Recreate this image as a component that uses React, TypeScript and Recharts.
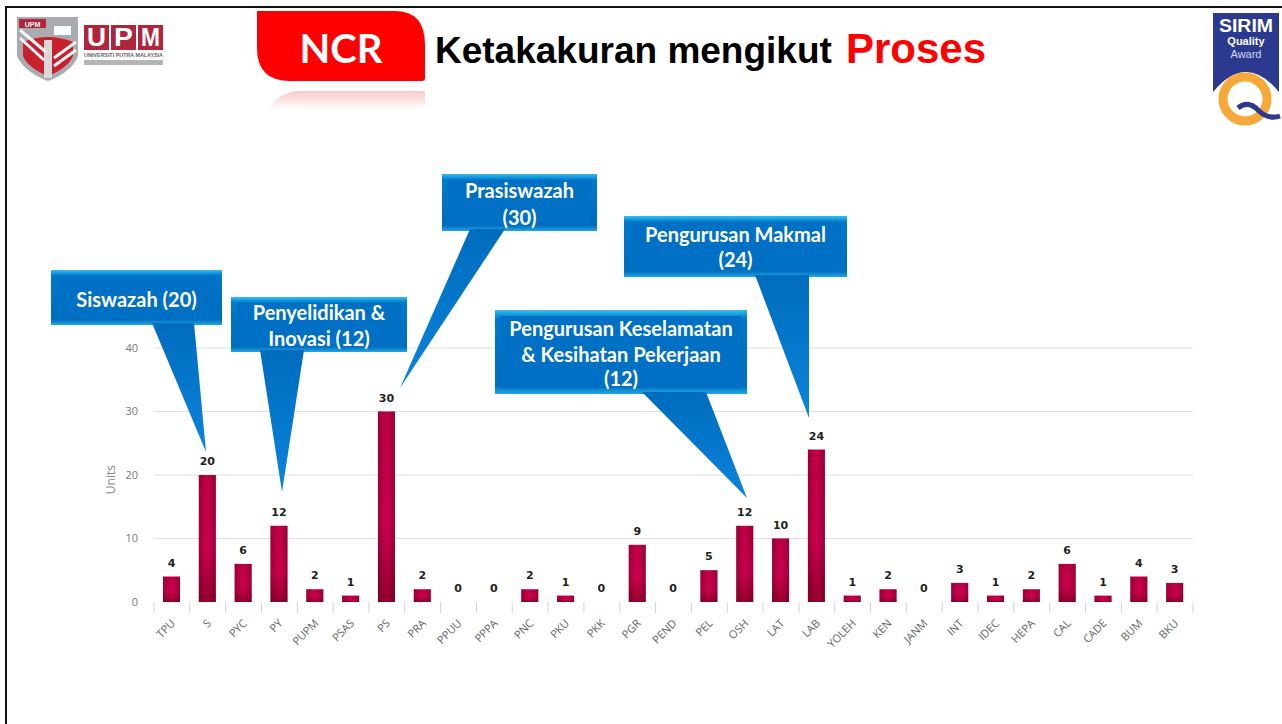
import React from 'react';
import { BarChart, Bar, XAxis, YAxis, CartesianGrid, LabelList } from 'recharts';

const categories = ['TPU', 'S', 'PYC', 'PY', 'PUPM', 'PSAS', 'PS', 'PRA', 'PPUU', 'PPPA', 'PNC', 'PKU', 'PKK', 'PGR', 'PEND', 'PEL', 'OSH', 'LAT', 'LAB', 'YOLEH', 'KEN', 'JANM', 'INT', 'IDEC', 'HEPA', 'CAL', 'CADE', 'BUM', 'BKU'];
const ncrCounts = [4, 20, 6, 12, 2, 1, 30, 2, 0, 0, 2, 1, 0, 9, 0, 5, 12, 10, 24, 1, 2, 0, 3, 1, 2, 6, 1, 4, 3];
const yTicks = [0, 10, 20, 30, 40];

const chartData = categories.map((name, i) => ({ name, value: ncrCounts[i] }));

const WIDTH = 1282;
const HEIGHT = 724;
const PLOT_LEFT = 154;
const PLOT_RIGHT = 1193;
const BAND = (PLOT_RIGHT - PLOT_LEFT) / categories.length;

// tick marks sit on the category boundaries, not the centres
const CategoryTick = (props: any) => {
  const { x, y, payload, index } = props;
  const left = x - BAND / 2;
  const isLast = index === categories.length - 1;
  return (
    <g>
      <line x1={left} x2={left} y1={602} y2={613} stroke="#d4d4d4" />
      {isLast && <line x1={left + BAND} x2={left + BAND} y1={602} y2={613} stroke="#d4d4d4" />}
      <text
        x={x + 4}
        y={y + 14}
        textAnchor="end"
        fontSize={11}
        fontFamily="'Open Sans', sans-serif"
        fill="#666"
        transform={`rotate(-45 ${x + 4} ${y + 14})`}
      >
        {payload.value}
      </text>
    </g>
  );
};

const GlossyBar = (props: any) => {
  const { x, y, width, height } = props;
  if (!height || height <= 0) return null;
  return (
    <g>
      <rect x={x} y={y} width={width} height={height} fill="url(#barBody)" />
      <rect x={x} y={y} width={width} height={height} fill="url(#barEdge)" />
    </g>
  );
};

// callout boxes: box rect, tail base (x1, x2) and tail tip
const callouts = [
  { lines: ['Siswazah (20)'], x: 51, y: 270, w: 171, h: 55, base: [152, 194], tip: [206, 452], textY: [307] },
  { lines: ['Penyelidikan &', 'Inovasi (12)'], x: 231, y: 297, w: 176, h: 55, base: [260, 304], tip: [282, 492], textY: [320, 346] },
  { lines: ['Prasiswazah', '(30)'], x: 442, y: 174, w: 155, h: 57, base: [470, 505], tip: [400, 388], textY: [198, 225] },
  { lines: ['Pengurusan Makmal', '(24)'], x: 624, y: 216, w: 223, h: 61, base: [755, 809], tip: [809, 418], textY: [242, 267] },
  { lines: ['Pengurusan Keselamatan', '& Kesihatan Pekerjaan', '(12)'], x: 495, y: 310, w: 252, h: 84, base: [642, 706], tip: [747, 498], textY: [336, 362, 386] },
];

const Callout = ({ c }: { c: (typeof callouts)[number] }) => (
  <g>
    <rect x={c.x} y={c.y} width={c.w} height={c.h} fill="url(#boxFill)" />
    <rect x={c.x + 6} y={c.y + 6} width={c.w - 12} height={c.h - 12} fill="#0070c4" />
    <polygon
      points={`${c.base[0]},${c.y + c.h - 2} ${c.base[1]},${c.y + c.h - 2} ${c.tip[0]},${c.tip[1]}`}
      fill="url(#tailFill)"
    />
    {c.lines.map((line, i) => (
      <text
        key={line}
        x={c.x + c.w / 2}
        y={c.textY[i]}
        textAnchor="middle"
        fontFamily="Lato, sans-serif"
        fontWeight={700}
        fontSize={20}
        fill="#fff"
      >
        {line}
      </text>
    ))}
  </g>
);

const Decorations = () => (
  <svg width={WIDTH} height={HEIGHT} style={{ position: 'absolute', left: 0, top: 0 }}>
    <defs>
      <linearGradient id="boxFill" x1="0" y1="0" x2="0" y2="1">
        <stop offset="0" stopColor="#35c0ee" />
        <stop offset="0.1" stopColor="#0078cc" />
        <stop offset="0.9" stopColor="#006cbd" />
        <stop offset="1" stopColor="#1fa8e8" />
      </linearGradient>
      <linearGradient id="tailFill" x1="0" y1="0" x2="0" y2="1">
        <stop offset="0" stopColor="#006cbd" />
        <stop offset="1" stopColor="#0a84dc" />
      </linearGradient>
      <linearGradient id="tabShine" x1="0" y1="0" x2="0" y2="1">
        <stop offset="0" stopColor="#f9c9c9" />
        <stop offset="1" stopColor="#ffffff" />
      </linearGradient>
    </defs>

    {/* slide frame */}
    <rect x={5} y={6} width={WIDTH} height={2} fill="#111" />
    <rect x={5} y={6} width={2} height={HEIGHT} fill="#111" />

    {/* UPM logo */}
    <path d="M17 17 H78 V56 Q72 72 48 81 Q24 72 17 56 Z" fill="#a9acaf" />
    <path d="M23 42 Q48 32 73 42 V56 Q68 68 48 76 Q28 68 23 56 Z" fill="#c8202f" />
    <rect x={44} y={40} width={8} height={38} fill="#d9d9d9" />
    <path d="M20 30 L46 52 M20 38 L44 60 M76 42 L54 58 M76 50 L54 66" stroke="#f4f4f4" strokeWidth={3} fill="none" />
    <rect x={19} y={19} width={27} height={9} fill="#b0243c" />
    <text x={32.5} y={26.5} textAnchor="middle" fontSize={7} fontWeight={700} fontFamily="'Liberation Sans'" fill="#fff">UPM</text>
    <rect x={54} y={26} width={17} height={9} fill="#fff" />
    {['U', 'P', 'M'].map((letter, i) => (
      <g key={letter}>
        <rect x={84 + i * 27} y={25} width={25} height={25} fill="#b0243c" />
        <text x={96.5 + i * 27} y={46} textAnchor="middle" fontSize={25} fontWeight={700} fontFamily="'Liberation Sans'" fill="#fff" textLength={19} lengthAdjust="spacingAndGlyphs">{letter}</text>
      </g>
    ))}
    <text x={123.5} y={57} textAnchor="middle" fontSize={5} fontWeight={700} fontFamily="'Liberation Sans'" fill="#666" textLength={79} lengthAdjust="spacingAndGlyphs">UNIVERSITI PUTRA MALAYSIA</text>
    <rect x={84} y={60} width={79} height={5} fill="#b5b5b5" />

    {/* NCR tab */}
    <path d="M257 11 H395 Q425 11 425 45 V78 Q425 81 422 81 H290 Q257 81 257 48 Z" fill="#ff0000" />
    <path d="M268 110 Q280 91 300 91 H425 V110 Z" fill="url(#tabShine)" />
    <text x={341} y={63} textAnchor="middle" fontFamily="Lato, sans-serif" fontWeight={700} fontSize={40} fill="#fff">NCR</text>

    {/* title */}
    <text x={435} y={63} fontFamily="'Liberation Sans', sans-serif" fontWeight={700} fontSize={37} fill="#000">Ketakakuran mengikut</text>
    <text x={846} y={63} fontFamily="'Liberation Sans', sans-serif" fontWeight={700} fontSize={42} fill="#ff0000">Proses</text>

    {/* SIRIM badge */}
    <path d="M1213 13 H1279 V92 Q1246 52 1213 92 Z" fill="#2b3a8f" />
    <text x={1246} y={32} textAnchor="middle" fontFamily="'Liberation Sans'" fontWeight={700} fontSize={18} fill="#fff" textLength={54} lengthAdjust="spacingAndGlyphs">SIRIM</text>
    <text x={1246} y={45} textAnchor="middle" fontFamily="'Liberation Sans'" fontWeight={700} fontSize={11} fill="#fff">Quality</text>
    <text x={1246} y={58} textAnchor="middle" fontFamily="'Liberation Sans'" fontSize={11} fill="#d8d8ee">Award</text>
    <circle cx={1245} cy={99} r={22} fill="#fff" stroke="#f6a838" strokeWidth={9} />
    <path d="M1238 108 Q1248 100 1258 110 T1280 116" stroke="#2b3a8f" strokeWidth={5} fill="none" />

    {callouts.map((c) => (
      <Callout key={c.lines[0]} c={c} />
    ))}
  </svg>
);

const App: React.FC = () => {
  return (
    <div style={{ position: 'absolute', left: 0, top: 0, width: WIDTH, height: HEIGHT, background: '#fff' }}>
      <BarChart
        width={WIDTH}
        height={HEIGHT}
        data={chartData}
        margin={{ top: 348, right: WIDTH - PLOT_RIGHT, bottom: 0, left: 0 }}
      >
        <defs>
          <linearGradient id="barBody" x1="0" y1="0" x2="0" y2="1">
            <stop offset="0" stopColor="#b4003f" />
            <stop offset="0.6" stopColor="#c4004c" />
            <stop offset="1" stopColor="#7c0020" />
          </linearGradient>
          <linearGradient id="barEdge" x1="0" y1="0" x2="1" y2="0">
            <stop offset="0" stopColor="#6d0020" stopOpacity={0.45} />
            <stop offset="0.5" stopColor="#e0005a" stopOpacity={0.25} />
            <stop offset="1" stopColor="#6d0020" stopOpacity={0.45} />
          </linearGradient>
        </defs>
        <CartesianGrid vertical={false} stroke="#dedede" horizontalValues={[10, 20, 30, 40]} />
        <XAxis
          dataKey="name"
          interval={0}
          height={122}
          axisLine={false}
          tickLine={false}
          tick={<CategoryTick />}
        />
        <YAxis
          domain={[0, 40]}
          ticks={yTicks}
          width={PLOT_LEFT}
          axisLine={false}
          tickLine={false}
          tickMargin={10}
          tick={{ fill: '#777', fontSize: 11, fontFamily: "'Open Sans', sans-serif" }}
          label={{ value: 'Units', angle: -90, position: 'insideRight', dx: -38, dy: -10, fill: '#888', fontSize: 12, fontFamily: "'Open Sans', sans-serif" }}
        />
        <Bar dataKey="value" barSize={17} isAnimationActive={false} shape={<GlossyBar />}>
          <LabelList
            dataKey="value"
            position="top"
            offset={10}
            fontSize={11}
            fontWeight={700}
            fontFamily="'DejaVu Sans', sans-serif"
            fill="#222"
          />
        </Bar>
      </BarChart>
      <Decorations />
    </div>
  );
};

export default App;
